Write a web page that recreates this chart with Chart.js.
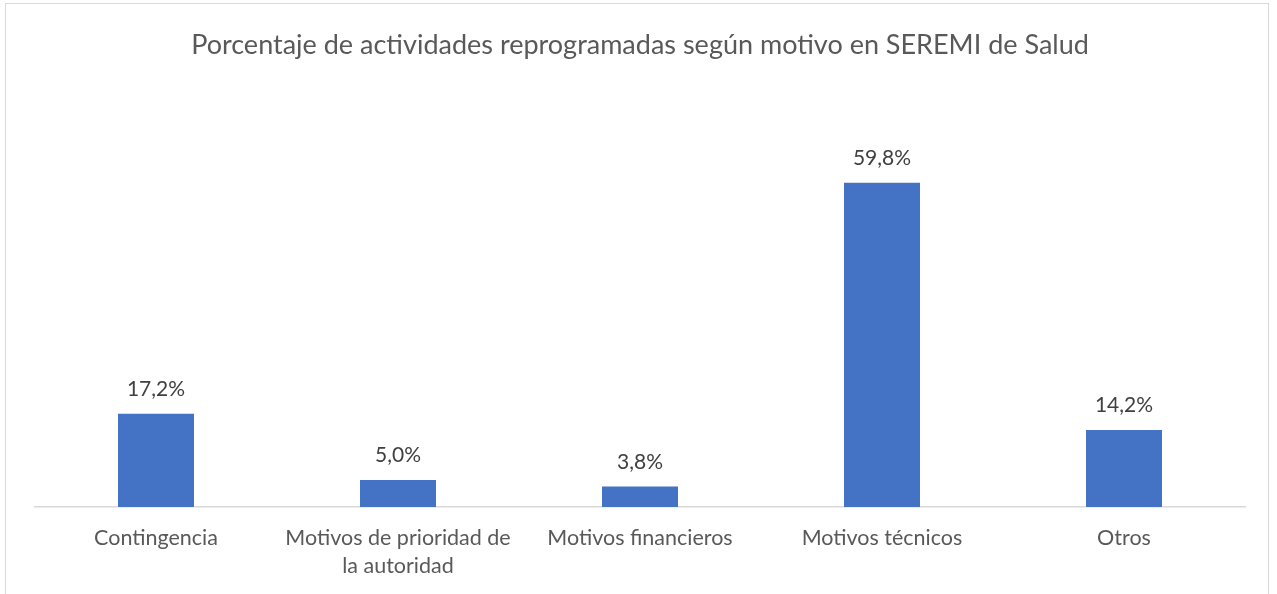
<!DOCTYPE html>
<html>
<head>
<meta charset="utf-8">
<script src="https://cdn.jsdelivr.net/npm/chart.js@4"></script>
<style>
  html, body { margin: 0; padding: 0; background: #fff; overflow: hidden; }
  #frame { position: absolute; left: 5px; top: 3px; width: 1264px; height: 620px; border: 1px solid #d9d9d9; box-sizing: border-box; }
  #wrap { position: absolute; left: 0; top: 0; width: 1277px; height: 594px; }
</style>
</head>
<body>
<div id="frame"></div>
<div id="wrap"><canvas id="chart"></canvas></div>
<script>
// Datos del gráfico
const categorias = [
  "Contingencia",
  ["Motivos de prioridad de", "la autoridad"],
  "Motivos financieros",
  "Motivos técnicos",
  "Otros"
];
const porcentajes = [17.2, 5.0, 3.8, 59.8, 14.2];
const titulo = "Porcentaje de actividades reprogramadas según motivo en SEREMI de Salud";

const fuente = "Lato, 'Open Sans', sans-serif";

// Etiquetas de datos sobre cada barra
const etiquetasPlugin = {
  id: "etiquetas",
  afterDatasetsDraw(chart) {
    const ctx = chart.ctx;
    const meta = chart.getDatasetMeta(0);
    ctx.save();
    ctx.font = "21px " + fuente;
    ctx.fillStyle = "#404040";
    ctx.textAlign = "center";
    ctx.textBaseline = "bottom";
    meta.data.forEach((bar, i) => {
      const txt = porcentajes[i].toFixed(1).replace(".", ",") + "%";
      ctx.fillText(txt, bar.x, bar.y - 14);
    });
    ctx.restore();
  }
};

const ctx = document.getElementById("chart").getContext("2d");
new Chart(ctx, {
  type: "bar",
  data: {
    labels: categorias,
    datasets: [{
      data: porcentajes,
      backgroundColor: "#4472C4",
      barPercentage: 0.314,
      categoryPercentage: 1.0
    }]
  },
  options: {
    responsive: true,
    maintainAspectRatio: false,
    animation: false,
    layout: { padding: { left: 35, right: 32, top: 29, bottom: 5 } },
    plugins: {
      legend: { display: false },
      tooltip: { enabled: false },
      title: {
        display: true,
        text: titulo,
        color: "#595959",
        font: { family: fuente, size: 27, weight: "normal", lineHeight: 1.2 },
        padding: { top: 0, bottom: 66 }
      }
    },
    scales: {
      y: { display: false, min: 0, max: 70 },
      x: {
        grid: { display: false },
        border: { color: "#d9d9d9", width: 1.5 },
        ticks: {
          color: "#595959",
          font: { family: fuente, size: 21.5, lineHeight: 1.3 },
          padding: 9,
          maxRotation: 0
        }
      }
    }
  },
  plugins: [etiquetasPlugin]
});
</script>
</body>
</html>
